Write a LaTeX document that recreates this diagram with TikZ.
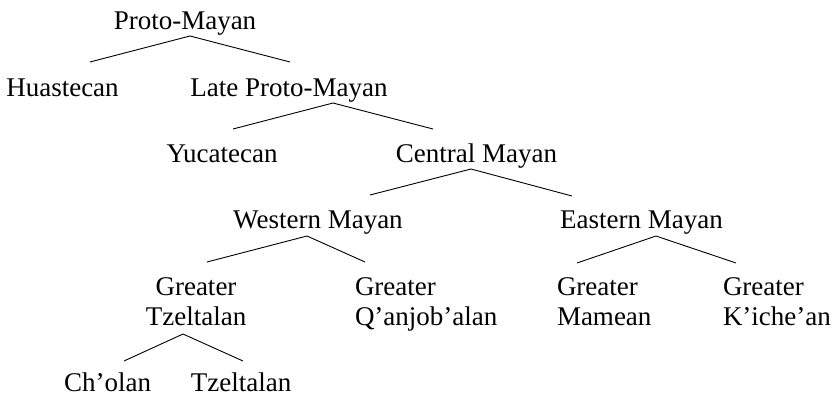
\documentclass[tikz,border=0pt]{standalone}
\usepackage{fontspec}
\setmainfont{Liberation Serif}
\begin{document}
\begin{tikzpicture}[x=1pt,y=-1pt,
  lbl/.style={inner sep=0pt,outer sep=0pt,font=\fontsize{27}{30}\selectfont,anchor=base},
  lbll/.style={lbl,anchor=base west,align=left},
  edge/.style={line width=0.9pt}]
\useasboundingbox (0,0) rectangle (839,396);
% nodes
\node[lbl] (pm) at (185,30) {Proto-Mayan};
\node[lbl] (hu) at (62.5,96) {Huastecan};
\node[lbl] (lpm) at (289,96) {Late Proto-Mayan};
\node[lbl] (yu) at (222,162) {Yucatecan};
\node[lbl] (cm) at (476.5,162) {Central Mayan};
\node[lbl] (wm) at (318,228) {Western Mayan};
\node[lbl] (em) at (641.5,228) {Eastern Mayan};
\node[lbl,align=center] (gt) at (196,325) {Greater\\Tzeltalan};
\node[lbll] (gq) at (355,325) {Greater\\Q’anjob’alan};
\node[lbll] (gm) at (557,325) {Greater\\Mamean};
\node[lbll] (gk) at (723,325) {Greater\\K’iche’an};
\node[lbl] (ch) at (107.5,391) {Ch’olan};
\node[lbl] (tz) at (241,391) {Tzeltalan};
% connectors
\draw[edge] ([shift={(27.5,-34)}]hu.base) -- ([shift={(5,6)}]pm.base) -- ([shift={(1,-34)}]lpm.base);
\draw[edge] ([shift={(11,-33)}]yu.base) -- ([shift={(44,7)}]lpm.base) -- ([shift={(-43.5,-33)}]cm.base);
\draw[edge] ([shift={(52,-33)}]wm.base) -- ([shift={(-5.5,7)}]cm.base) -- ([shift={(-69.5,-32)}]em.base);
\draw[edge] ([shift={(11,-63)}]gt.base) -- ([shift={(-11,8)}]wm.base) -- ([shift={(10,-63)}]gq.base west);
\draw[edge] ([shift={(20,-62)}]gm.base west) -- ([shift={(14.5,8)}]em.base) -- ([shift={(13,-62)}]gk.base west);
\draw[edge] ([shift={(16.5,-30)}]ch.base) -- ([shift={(-13,9)}]gt.base) -- ([shift={(2,-30)}]tz.base);
\end{tikzpicture}
\end{document}
